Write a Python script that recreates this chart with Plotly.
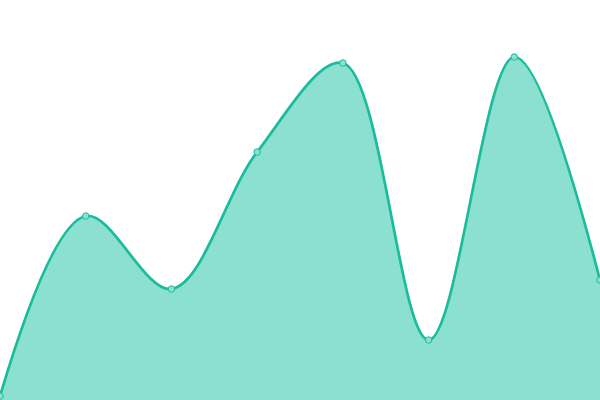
import plotly.graph_objects as go

# data
x_vals = [0, 1, 2, 3, 4, 5, 6, 7]
y_vals = [1, 46, 27.75, 62, 84.25, 15, 85.75, 30]

line_color = '#1abc9c'
fill_color = '#8be0cf'

fig = go.Figure(data=go.Scatter(
    x=x_vals, y=y_vals,
    mode='lines+markers',
    line=dict(color=line_color, width=2.7, shape='spline', smoothing=1),
    marker=dict(size=6.5, color='#8be0cf', line=dict(color=line_color, width=1)),
    fill='tozeroy', fillcolor=fill_color,
    hoverinfo='skip'))

fig.update_layout(
    width=600, height=400,
    margin=dict(l=0, r=0, t=0, b=0),
    paper_bgcolor='white', plot_bgcolor='white',
    showlegend=False,
    xaxis=dict(range=[0, 7], visible=False, fixedrange=True),
    yaxis=dict(range=[0, 100], visible=False, fixedrange=True))

# remove the page's default body margin so the chart fills the window
fig.write_html("out.html", config={'displayModeBar': False},
               post_script="document.body.style.margin='0';document.body.style.overflow='hidden';")
